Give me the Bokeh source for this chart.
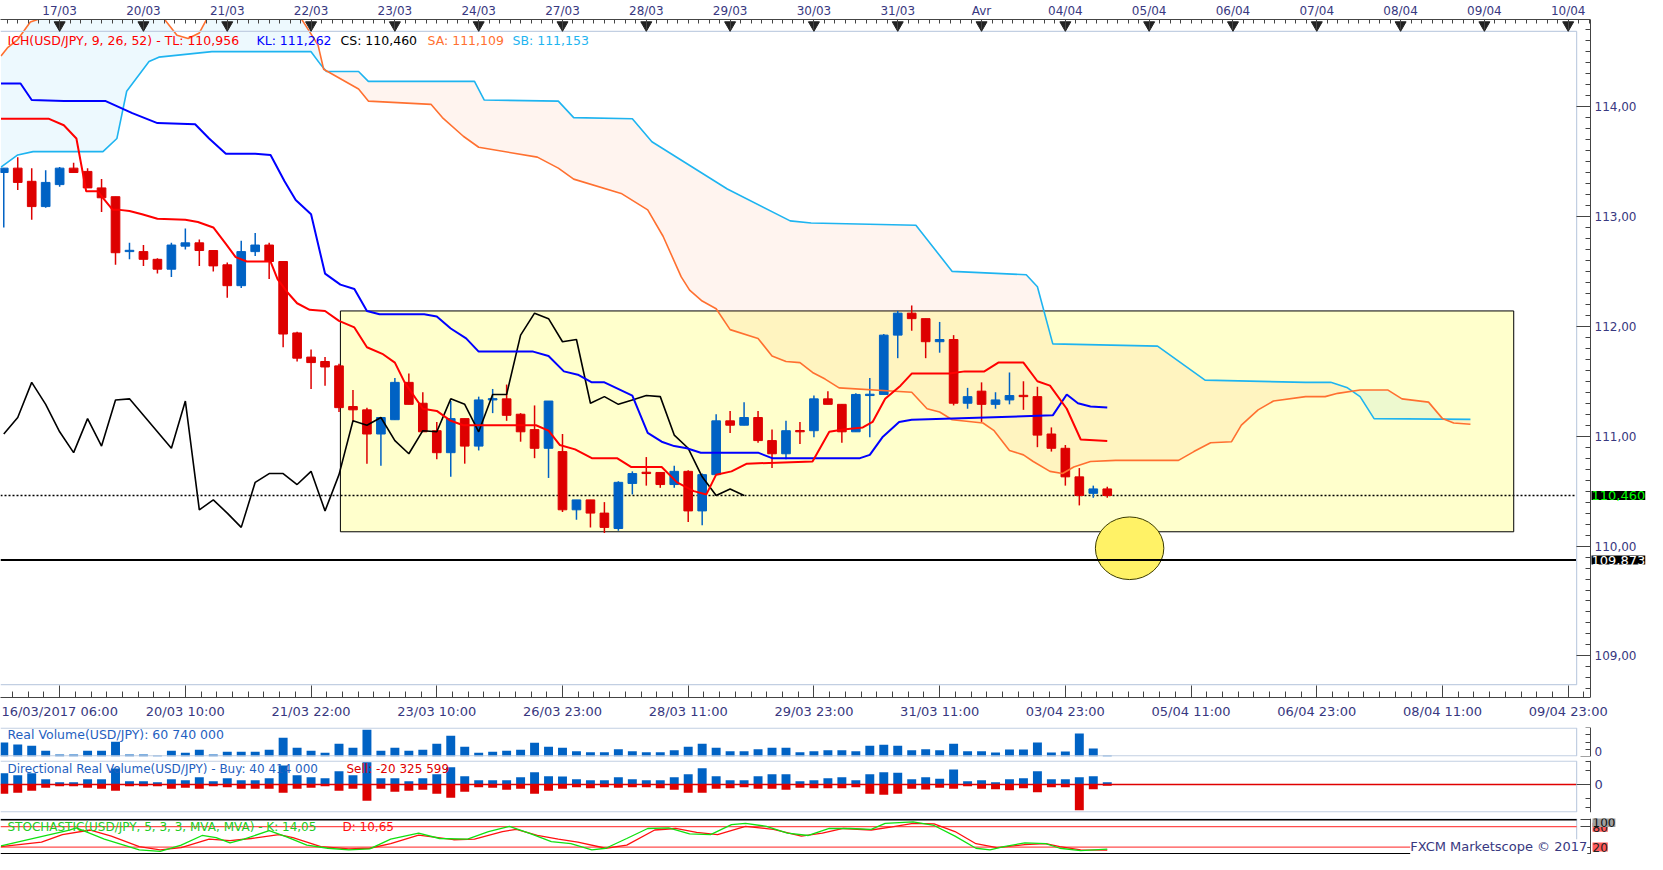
import numpy as np
from bokeh.plotting import figure
from bokeh.layouts import column
from bokeh.models import (Range1d, LinearAxis, FixedTicker, Label,
                          CustomJSTickFormatter, ColumnDataSource)
from bokeh.embed import file_html
from bokeh.resources import INLINE

# ------------------------------------------------------------------ data
# 4h candles USD/JPY, index 0..79
opens = [113.40, 113.44, 113.32, 113.09, 113.29, 113.44, 113.41, 113.26, 113.18, 112.68,
         112.68, 112.61, 112.52, 112.73, 112.76, 112.69, 112.56, 112.37, 112.68, 112.74,
         112.59, 111.94, 111.72, 111.68, 111.64, 111.27, 111.24, 111.02, 111.15, 111.49,
         111.30, 111.05, 110.85, 111.16, 110.91, 111.33, 111.34, 111.20, 111.06, 110.89,
         110.86, 110.33, 110.42, 110.30, 110.16, 110.57, 110.67, 110.67, 110.56, 110.68,
         110.32, 110.65, 111.14, 111.10, 111.17, 110.96, 110.84, 111.05, 111.05, 111.34,
         111.29, 111.04, 111.37, 111.38, 111.92, 112.12, 112.07, 111.86, 111.88, 111.30,
         111.41, 111.29, 111.33, 111.37, 111.36, 111.02, 110.89, 110.63, 110.48, 110.52]
highs = [113.44, 113.54, 113.44, 113.42, 113.45, 113.49, 113.44, 113.34, 113.18, 112.76,
         112.74, 112.62, 112.76, 112.89, 112.79, 112.69, 112.58, 112.78, 112.85, 112.76,
         112.59, 111.95, 111.79, 111.72, 111.66, 111.42, 111.26, 111.17, 111.53, 111.57,
         111.40, 111.13, 111.32, 111.16, 111.36, 111.43, 111.47, 111.21, 111.28, 111.32,
         111.02, 110.42, 110.42, 110.40, 110.59, 110.68, 110.81, 110.67, 110.73, 110.69,
         110.66, 111.20, 111.23, 111.31, 111.23, 111.06, 111.14, 111.13, 111.37, 111.41,
         111.29, 111.39, 111.53, 111.93, 112.14, 112.19, 112.07, 112.04, 111.92, 111.44,
         111.49, 111.40, 111.58, 111.50, 111.45, 111.08, 110.92, 110.71, 110.55, 110.54]
lows = [112.90, 113.24, 112.97, 113.08, 113.27, 113.40, 113.26, 113.04, 112.56, 112.61,
        112.55, 112.48, 112.45, 112.70, 112.55, 112.50, 112.26, 112.35, 112.64, 112.43,
        111.81, 111.68, 111.43, 111.46, 111.22, 111.13, 110.75, 110.73, 111.15, 111.29,
        111.04, 110.79, 110.63, 110.75, 110.87, 111.21, 111.14, 110.95, 110.80, 110.62,
        110.31, 110.24, 110.17, 110.12, 110.14, 110.47, 110.55, 110.53, 110.53, 110.22,
        110.19, 110.65, 111.03, 111.10, 110.94, 110.71, 110.79, 110.93, 110.99, 111.29,
        110.94, 111.04, 110.99, 111.38, 111.71, 111.96, 111.71, 111.76, 111.28, 111.25,
        111.13, 111.25, 111.29, 111.24, 110.90, 110.86, 110.55, 110.37, 110.44, 110.44]
closes = [113.44, 113.31, 113.09, 113.31, 113.44, 113.40, 113.26, 113.17, 112.67, 112.69,
          112.61, 112.52, 112.74, 112.76, 112.69, 112.55, 112.37, 112.68, 112.74, 112.59,
          111.93, 111.71, 111.67, 111.63, 111.26, 111.24, 111.02, 111.17, 111.49, 111.29,
          111.04, 110.85, 111.16, 110.91, 111.33, 111.34, 111.19, 111.04, 110.89, 111.32,
          110.33, 110.42, 110.30, 110.17, 110.58, 110.66, 110.66, 110.56, 110.68, 110.32,
          110.65, 111.14, 111.10, 111.17, 110.96, 110.84, 111.05, 111.04, 111.34, 111.29,
          111.04, 111.38, 111.38, 111.92, 112.12, 112.07, 111.86, 111.88, 111.30, 111.36,
          111.29, 111.33, 111.37, 111.36, 111.01, 110.89, 110.63, 110.46, 110.52, 110.46]

# Ichimoku lines (vertices: candle index, price)
tl_x = [-0.2, 3.2, 4.3, 5.2, 5.9, 6.7, 7.8, 8.3, 9.0, 9.9, 11.0, 13.0, 13.9, 15.0, 15.9,
        16.6, 17.4, 19.1, 19.6, 20.3, 21.0, 21.9, 23.0, 24.0, 25.1, 26.0, 27.1, 28.0, 28.7,
        30.0, 31.0, 32.0, 32.9, 38.1, 39.0, 39.8, 40.9, 42.1, 43.9, 44.9, 47.1, 48.2, 49.4,
        50.3, 51.0, 52.1, 53.2, 57.9, 59.1, 60.1, 61.5, 62.2, 63.1, 64.2, 65.0, 67.7, 68.8,
        70.2, 71.2, 73.0, 74.0, 74.9, 76.1, 77.1, 79.0]
tl_y = [113.89, 113.89, 113.83, 113.71, 113.23, 113.23, 113.06, 113.06, 113.05, 113.02,
        112.98, 112.97, 112.95, 112.90, 112.75, 112.63, 112.59, 112.59, 112.43, 112.31,
        112.21, 112.15, 112.14, 112.05, 111.99, 111.81, 111.75, 111.67, 111.49, 111.25,
        111.23, 111.14, 111.10, 111.10, 111.05, 110.92, 110.88, 110.80, 110.80, 110.72,
        110.72, 110.58, 110.50, 110.47, 110.65, 110.68, 110.75, 110.77, 111.04, 111.06,
        111.08, 111.13, 111.34, 111.46, 111.57, 111.57, 111.59, 111.59, 111.67, 111.67,
        111.50, 111.46, 111.25, 110.97, 110.956]
kl_x = [-0.2, 1.2, 2.0, 4.3, 7.3, 9.2, 11.0, 13.7, 14.7, 15.9, 18.0, 19.1, 20.1, 20.9, 22.0,
        23.0, 24.1, 25.1, 26.0, 26.9, 30.1, 31.0, 32.0, 33.1, 34.0, 37.9, 39.0, 40.1, 41.1,
        42.1, 43.0, 45.0, 46.1, 47.1, 48.0, 48.9, 49.9, 54.0, 55.0, 61.3, 62.0, 62.9, 64.1,
        65.0, 75.1, 76.1, 76.9, 77.8, 79.0]
kl_y = [114.21, 114.21, 114.06, 114.05, 114.05, 113.94, 113.85, 113.84, 113.71, 113.57,
        113.57, 113.56, 113.32, 113.15, 113.02, 112.48, 112.38, 112.34, 112.14, 112.11,
        112.11, 112.09, 111.98, 111.89, 111.77, 111.77, 111.73, 111.59, 111.56, 111.49,
        111.49, 111.37, 111.03, 110.95, 110.91, 110.89, 110.85, 110.85, 110.80, 110.80,
        110.83, 110.99, 111.13, 111.15, 111.19, 111.38, 111.30, 111.27, 111.262]
sa_x = [-0.2, 0.3, 1.0, 1.9, 4.0, 11.1, 12.4, 13.2, 14.0, 14.8, 21.0, 21.8, 22.5, 22.9, 25.4,
        26.1, 30.6, 31.4, 32.9, 34.0, 38.2, 39.7, 40.8, 44.2, 46.1, 47.2, 48.5, 49.1, 50.0,
        51.0, 52.0, 54.0, 55.0, 56.0, 57.0, 57.9, 58.8, 59.8, 65.0, 66.1, 67.0, 67.9, 70.1,
        70.9, 72.0, 73.0, 73.7, 74.9, 75.8, 76.6, 77.8, 79.6, 84.1, 85.2, 86.4, 87.9, 88.6,
        89.8, 90.9, 93.2, 94.6, 95.5, 97.1, 99.1, 100.1, 102.0, 103.0, 103.8, 105.0]
sa_y = [114.46, 114.54, 114.61, 114.77, 114.86, 114.86, 114.65, 114.62, 114.67, 114.86,
        114.86, 114.70, 114.56, 114.34, 114.16, 114.05, 114.02, 113.90, 113.73, 113.63,
        113.54, 113.44, 113.34, 113.21, 113.06, 112.82, 112.45, 112.33, 112.23, 112.16,
        111.97, 111.89, 111.73, 111.68, 111.67, 111.58, 111.52, 111.44, 111.40, 111.25,
        111.22, 111.15, 111.12, 111.05, 110.87, 110.83, 110.77, 110.68, 110.66, 110.72,
        110.77, 110.78, 110.78, 110.86, 110.94, 110.95, 111.10, 111.24, 111.32, 111.36,
        111.36, 111.39, 111.42, 111.42, 111.34, 111.31, 111.16, 111.12, 111.109]
sb_x = [-0.2, 1.0, 2.1, 3.1, 7.1, 8.1, 8.8, 10.4, 11.1, 14.9, 22.0, 22.7, 23.1, 25.4, 26.1,
        33.7, 34.4, 39.7, 40.8, 45.0, 46.4, 51.8, 56.3, 57.8, 65.3, 67.9, 73.2, 74.0, 75.1,
        82.6, 86.0, 93.2, 95.0, 96.2, 97.1, 98.1, 105.0]
sb_y = [113.45, 113.56, 113.59, 113.59, 113.59, 113.71, 114.14, 114.41, 114.45, 114.50,
        114.50, 114.38, 114.32, 114.32, 114.23, 114.23, 114.06, 114.05, 113.90, 113.89,
        113.68, 113.25, 112.96, 112.94, 112.92, 112.50, 112.47, 112.36, 111.84, 111.82,
        111.51, 111.49, 111.49, 111.44, 111.36, 111.16, 111.153]
chikou = [111.02, 111.17, 111.49, 111.29, 111.04, 110.85, 111.16, 110.91, 111.33, 111.34,
          111.19, 111.04, 110.89, 111.32, 110.33, 110.42, 110.30, 110.17, 110.58, 110.66,
          110.66, 110.56, 110.68, 110.32, 110.65, 111.14, 111.10, 111.17, 110.96, 110.84,
          111.05, 111.04, 111.34, 111.29, 111.04, 111.38, 111.38, 111.92, 112.12, 112.07,
          111.86, 111.88, 111.30, 111.36, 111.29, 111.33, 111.37, 111.36, 111.01, 110.89,
          110.63, 110.46, 110.52, 110.46]

# volumes (millions)
volume = [840, 720, 640, 340, 120, 120, 340, 340, 880, 120, 120, 60, 340, 220, 400, 120, 280,
          280, 280, 400, 1120, 520, 340, 220, 760, 520, 1600, 340, 520, 340, 400, 760, 1240,
          580, 220, 280, 340, 400, 820, 580, 520, 320, 260, 260, 440, 320, 260, 260, 380, 580,
          760, 520, 320, 320, 440, 520, 520, 260, 320, 380, 380, 320, 640, 700, 640, 380, 440,
          380, 760, 320, 320, 240, 420, 420, 840, 240, 300, 1380, 480, 60.74]
buy_vol = [197, 162, 197, 93, 41, 41, 93, 93, 278, 58, 58, 41, 93, 75, 128, 58, 110, 75, 75,
           110, 331, 162, 128, 110, 232, 162, 389, 110, 110, 58, 110, 180, 302, 145, 75, 75,
           75, 128, 215, 145, 139, 93, 75, 75, 128, 93, 75, 75, 128, 180, 284, 145, 75, 75,
           145, 180, 180, 58, 75, 110, 128, 75, 180, 215, 203, 93, 128, 99, 261, 58, 75, 41,
           93, 110, 232, 93, 93, 128, 145, 40.414]
sell_vol = [-162, -145, -110, -58, -29, -29, -58, -75, -110, -29, -29, -29, -75, -58, -75,
            -29, -46, -75, -75, -75, -145, -75, -58, -29, -110, -75, -284, -75, -128, -110,
            -93, -162, -232, -128, -46, -58, -93, -75, -162, -110, -75, -46, -64, -46, -58,
            -46, -46, -64, -93, -145, -145, -75, -64, -46, -75, -75, -93, -58, -64, -64, -64,
            -46, -162, -180, -162, -75, -87, -58, -75, -29, -75, -81, -99, -64, -133, -46,
            -46, -447, -81, -20.326]

# stochastic %K / %D (vertices)
k_x = [-0.2, 4.7, 5.2, 7.2, 9.7, 11.2, 12.7, 14.2, 15.2, 16.2, 17.2, 19.0, 20.2, 21.7, 23.2,
       24.7, 26.2, 27.7, 29.7, 31.2, 33.2, 34.7, 36.2, 37.7, 39.2, 40.6, 42.1, 43.1, 44.6,
       46.1, 47.6, 49.1, 50.6, 52.1, 53.1, 54.6, 56.1, 57.6, 59.1, 60.6, 62.1, 63.1, 65.1,
       66.6, 68.1, 69.6, 70.6, 71.6, 73.1, 74.6, 75.6, 77.1, 79.0]
k_y = [23.6, 70.1, 76.4, 43.3, 11.9, 7.5, 25.4, 54.0, 47.7, 32.5, 43.3, 68.3, 50.4, 25.4,
       16.4, 11.9, 14.6, 43.3, 61.2, 45.1, 43.3, 65.6, 80.9, 59.4, 36.1, 29.8, 11.9, 16.4,
       45.1, 74.6, 76.4, 58.5, 56.7, 86.2, 89.8, 80.9, 61.2, 54.0, 74.6, 74.6, 71.9, 89.8,
       94.3, 83.5, 52.2, 16.4, 11.9, 20.9, 32.5, 29.8, 16.4, 9.3, 14.05]
d_x = [-0.2, 2.7, 4.2, 6.2, 7.7, 9.7, 11.2, 12.7, 14.7, 16.2, 17.7, 19.7, 20.7, 22.7, 24.7,
       26.2, 27.7, 29.7, 32.2, 33.7, 35.7, 36.7, 38.2, 39.7, 41.1, 43.1, 44.6, 46.6, 48.1,
       49.6, 51.1, 53.1, 55.1, 57.1, 58.6, 60.1, 62.1, 63.6, 65.1, 66.6, 68.1, 69.6, 71.1,
       73.1, 74.6, 75.6, 77.1, 79.0]
d_y = [20.9, 34.3, 56.7, 70.1, 52.2, 20.9, 11.9, 18.2, 43.3, 38.8, 45.1, 56.7, 47.7, 20.9,
       14.6, 16.4, 29.8, 54.9, 41.5, 43.3, 65.6, 71.9, 54.0, 43.3, 34.3, 16.4, 25.4, 70.1,
       74.6, 63.0, 56.7, 80.9, 71.9, 52.2, 61.2, 74.6, 70.1, 79.1, 89.8, 88.0, 65.6, 29.8,
       18.2, 27.2, 29.8, 20.9, 11.9, 10.65]

# axes
price_ticks = [109, 110, 111, 112, 113, 114]
bottom_ticks = [4, 13, 22, 31, 40, 49, 58, 67, 76, 85, 94, 103, 112]
bottom_labels = ["16/03/2017 06:00", "20/03 10:00", "21/03 22:00", "23/03 10:00",
                 "26/03 23:00", "28/03 11:00", "29/03 23:00", "31/03 11:00", "03/04 23:00",
                 "05/04 11:00", "06/04 23:00", "08/04 11:00", "09/04 23:00"]
top_ticks = [4, 10, 16, 22, 28, 34, 40, 46, 52, 58, 64, 70, 76, 82, 88, 94, 100, 106, 112]
top_labels = ["17/03", "20/03", "21/03", "22/03", "23/03", "24/03", "27/03", "28/03",
              "29/03", "30/03", "31/03", "Avr", "04/04", "05/04", "06/04", "07/04", "08/04",
              "09/04", "10/04"]

# annotations (data units)
current_price = 110.46
support_price = 109.873
box_left, box_right, box_bottom, box_top = 24.1, 108.1, 110.13, 112.14
spot_x, spot_y, spot_w, spot_h = 80.6, 109.98, 4.9, 0.57

# ------------------------------------------------------------------ style
FONT = "DejaVu Sans"
TICK_COL = "#383880"
AX_COL = "#444444"
PANEL_COL = "#c2cfe2"
BLUE = "#0062c4"
RED = "#dd0000"
TL_COL, KL_COL, CS_COL, SA_COL, SB_COL = "#ff0000", "#0000ff", "#000000", "#ff7030", "#1eb4f0"

REF_X0, REF_DX = 3.3, 14.1


def ref_x(px):
    return (px - REF_X0) / REF_DX


def ref_price(py):
    return 111 + (441 - py) / 111.0


W, FRAME_W = 1647, 1590
X0, X1, XB = ref_x(0), ref_x(1605), ref_x(1591)
PPX = FRAME_W / (X1 - X0)
XR = X0 + W / PPX          # frame spans the whole width; axis sits at X1


def new_fig(h, y0, y1, bt, bb):
    f = figure(width=W, height=h, x_range=Range1d(X0, XR), y_range=Range1d(y0, y1),
               x_axis_location=None, y_axis_location=None,
               output_backend="svg", toolbar_location=None,
               min_border_left=0, min_border_right=0,
               min_border_top=bt, min_border_bottom=bb)
    f.outline_line_color = None
    f.grid.visible = False
    f.background_fill_color = "white"
    f.border_fill_color = "white"
    return f


def add_axis(f, side, ticks, minor, code, args=None, size="12px", major_in=14, minor_in=5,
             standoff=4, fixed=None, bounds=None):
    ax = LinearAxis(ticker=FixedTicker(ticks=ticks, minor_ticks=minor),
                    formatter=CustomJSTickFormatter(args=args or {}, code=code))
    if fixed is not None:
        ax.fixed_location = fixed
    if bounds is not None:
        ax.bounds = bounds
    ax.major_tick_in = major_in
    ax.major_tick_out = 0
    ax.minor_tick_in = minor_in
    ax.minor_tick_out = 0
    ax.axis_line_color = AX_COL
    ax.major_tick_line_color = AX_COL
    ax.minor_tick_line_color = AX_COL
    ax.major_label_text_font = FONT
    ax.major_label_text_font_size = size
    ax.major_label_text_color = TICK_COL
    ax.major_label_standoff = standoff
    f.add_layout(ax, side)
    return ax


def lab(f, x, y, text, color, size="13px", **kw):
    f.add_layout(Label(x=x, y=y, text=text, text_color=color, text_font=FONT,
                       text_font_size=size, text_baseline="middle", **kw))


def border(f, y0, y1):
    f.line(x=[X0, XB, XB, X0], y=[y1, y1, y0, y0], line_color=PANEL_COL, line_width=1.2)


# ------------------------------------------------------------------ main panel
Y0, Y1 = ref_price(705), ref_price(20)
M_TOP, M_FRAME, M_BOT = 16, 681, 26
PPY = M_FRAME / (Y1 - Y0)
p = new_fig(M_TOP + M_FRAME + M_BOT, Y0, Y1, M_TOP, M_BOT)

p.quad(left=[box_left], right=[box_right], bottom=[box_bottom], top=[box_top],
       fill_color="#ffffcc", line_color="black", line_width=1)

# cloud shading (rendering grid only)
gx = np.linspace(sa_x[0], sa_x[-1], 3000)
ga = np.interp(gx, sa_x, sa_y)
gb = np.interp(gx, sb_x, sb_y)
gtop = np.maximum(ga, gb)
p.varea(x=gx, y1=gb, y2=gtop, fill_color=SB_COL, fill_alpha=0.08)
p.varea(x=gx, y1=ga, y2=gtop, fill_color=SA_COL, fill_alpha=0.08)

p.ellipse(x=[spot_x], y=[spot_y], width=spot_w, height=spot_h,
          fill_color="#fff266", line_color="#3a3a00", line_width=1)

p.segment(x0=[X0], x1=[XB], y0=[support_price], y1=[support_price],
          line_color="black", line_width=2)
p.segment(x0=[X0], x1=[XB], y0=[current_price], y1=[current_price],
          line_color="black", line_width=1.5, line_dash="2 2")

# candles
idx = list(range(len(closes)))
ccol = [BLUE if c >= o else RED for o, c in zip(opens, closes)]
bot = [min(o, c) for o, c in zip(opens, closes)]
top = [max(max(o, c), b + 0.012) for o, c, b in zip(opens, closes, bot)]
src = ColumnDataSource(dict(x=idx, h=highs, l=lows, top=top, bot=bot, col=ccol))
p.segment(x0="x", x1="x", y0="l", y1="h", line_color="col", line_width=1.5, source=src)
p.vbar(x="x", width=0.62, top="top", bottom="bot", fill_color="col", line_color="col",
       line_width=1, source=src)

# ichimoku lines
p.line(sb_x, sb_y, line_color=SB_COL, line_width=1.6)
p.line(sa_x, sa_y, line_color=SA_COL, line_width=1.6)
p.line(list(range(len(chikou))), chikou, line_color=CS_COL, line_width=1.6)
p.line(kl_x, kl_y, line_color=KL_COL, line_width=2)
p.line(tl_x, tl_y, line_color=TL_COL, line_width=2)

border(p, ref_price(692), ref_price(32))
p.scatter(x=top_ticks, y=[Y1 - 5.5 / PPY] * len(top_ticks), marker="inverted_triangle",
          size=11, fill_color="#222222", line_color="#222222")

add_axis(p, "right", price_ticks, [round(108.7 + 0.1 * k, 1) for k in range(62)],
         "return tick.toFixed(2).replace('.', ',');", size="12px", major_in=14, minor_in=5,
         fixed=X1, bounds=(Y0, Y1))
add_axis(p, "below", bottom_ticks, [4 + 1.125 * m for m in range(-3, 98)],
         "const k = tpos.indexOf(Math.round(tick)); return k >= 0 ? tlab[k] : '';",
         args=dict(tpos=bottom_ticks, tlab=bottom_labels), size="13px",
         major_in=12, minor_in=6, standoff=6, bounds=(X0, X1))
add_axis(p, "above", top_ticks, [4 + 0.75 * m for m in range(-5, 147)],
         "const k = tpos.indexOf(Math.round(tick)); return k >= 0 ? tlab[k] : '';",
         args=dict(tpos=top_ticks, tlab=top_labels), size="12px",
         major_in=10, minor_in=4, standoff=2, bounds=(X0, X1))

ly = Y1 - 21 / PPY
lab(p, X0 + 7 / PPX, ly, "ICH(USD/JPY, 9, 26, 52) -  TL: 110,956", TL_COL, size="12.5px")
lab(p, X0 + 256 / PPX, ly, "KL: 111,262", KL_COL, size="12.5px")
lab(p, X0 + 340 / PPX, ly, "CS: 110,460", CS_COL, size="12.5px")
lab(p, X0 + 427 / PPX, ly, "SA: 111,109", SA_COL, size="12.5px")
lab(p, X0 + 512 / PPX, ly, "SB: 111,153", SB_COL, size="12.5px")

lab(p, X1 + 1 / PPX, current_price, "110,460", "#00ff00", size="13px",
    background_fill_color="black")
lab(p, X1 + 1 / PPX, support_price, "109,873", "white", size="13px",
    background_fill_color="black")

# ------------------------------------------------------------------ volume panel
V1 = 1740
p2 = new_fig(35, 0, V1, 4, 2)
p2.vbar(x=idx, top=volume, width=0.64, fill_color=BLUE, line_color=None)
border(p2, V1 * 0.02, V1 * 0.98)
add_axis(p2, "right", [0], [435, 870, 1305, 1740], "return '0';", size="12px",
         major_in=10, minor_in=5, standoff=4, fixed=X1, bounds=(0, V1))
lab(p2, X0 + 7 / PPX, V1 - 7 * V1 / 29, "Real Volume(USD/JPY): 60 740 000", "#1f5fbf",
    size="12.5px")

# ------------------------------------------------------------------ directional volume
D0, D1 = -487, 418
p3 = new_fig(57, D0, D1, 2, 3)
p3.vbar(x=idx, top=buy_vol, bottom=0, width=0.64, fill_color=BLUE, line_color=None)
p3.vbar(x=idx, top=0, bottom=sell_vol, width=0.64, fill_color=RED, line_color=None)
p3.segment(x0=[X0], x1=[XB], y0=[0], y1=[0], line_color="#e00000", line_width=1.5)
border(p3, D0 + 10, D1 - 10)
add_axis(p3, "right", [0], [-400, -240, 240, 400], "return '0';", size="13px",
         major_in=14, minor_in=5, standoff=4, fixed=X1, bounds=(D0, D1))
dly = D1 - 8 * (D1 - D0) / 52
lab(p3, X0 + 7 / PPX, dly, "Directional Real Volume(USD/JPY) -  Buy: 40 414 000", "#1f5fbf",
    size="12px")
lab(p3, X0 + 346 / PPX, dly, "Sell: -20 325 599", "#e00000", size="12px")

# ------------------------------------------------------------------ stochastic
S0, S1 = -2, 104
p4 = new_fig(39, S0, S1, 3, 0)
border(p4, S0 + 1, S1 - 1)
p4.segment(x0=[X0] * 4, x1=[XB] * 4, y0=[100, 80, 20, 0], y1=[100, 80, 20, 0],
           line_color=["black", "#ff4d4d", "#ff4d4d", "black"], line_width=[1.5, 1.2, 1.2, 1.5])
p4.line(d_x, d_y, line_color="#ff1010", line_width=1.3)
p4.line(k_x, k_y, line_color="#10e010", line_width=1.3)
add_axis(p4, "right", [0, 20, 80, 100], [], "return '';", major_in=10, minor_in=4,
         fixed=X1, bounds=(S0, S1))
sly = S1 - 8 * (S1 - S0) / 36
lab(p4, X0 + 7 / PPX, sly, "STOCHASTIC(USD/JPY, 5, 3, 3, MVA, MVA) -  K: 14,05", "#22cc22",
    size="12px")
lab(p4, X0 + 342 / PPX, sly, "D: 10,65", "#ff1010", size="12px")
p4.add_layout(Label(x=ref_x(1423), y=S0 + 1, text="FXCM Marketscope \u00a9 2017",
                    text_color=TICK_COL, text_font=FONT, text_font_size="13px",
                    text_baseline="bottom", background_fill_color="white"))
lab(p4, X1 + 2 / PPX, 20, "20", "#222222", size="12px", background_fill_color="#ff5a5a")
lab(p4, X1 + 2 / PPX, 78, "80", "#222222", size="12px", background_fill_color="#ff5a5a")
lab(p4, X1 + 2 / PPX, 92, "100", "#111111", size="12px", background_fill_color="#a0a0a0")

layout = column(p, p2, p3, p4)
open("out.html", "w").write(file_html(layout, INLINE, "USD/JPY"))
